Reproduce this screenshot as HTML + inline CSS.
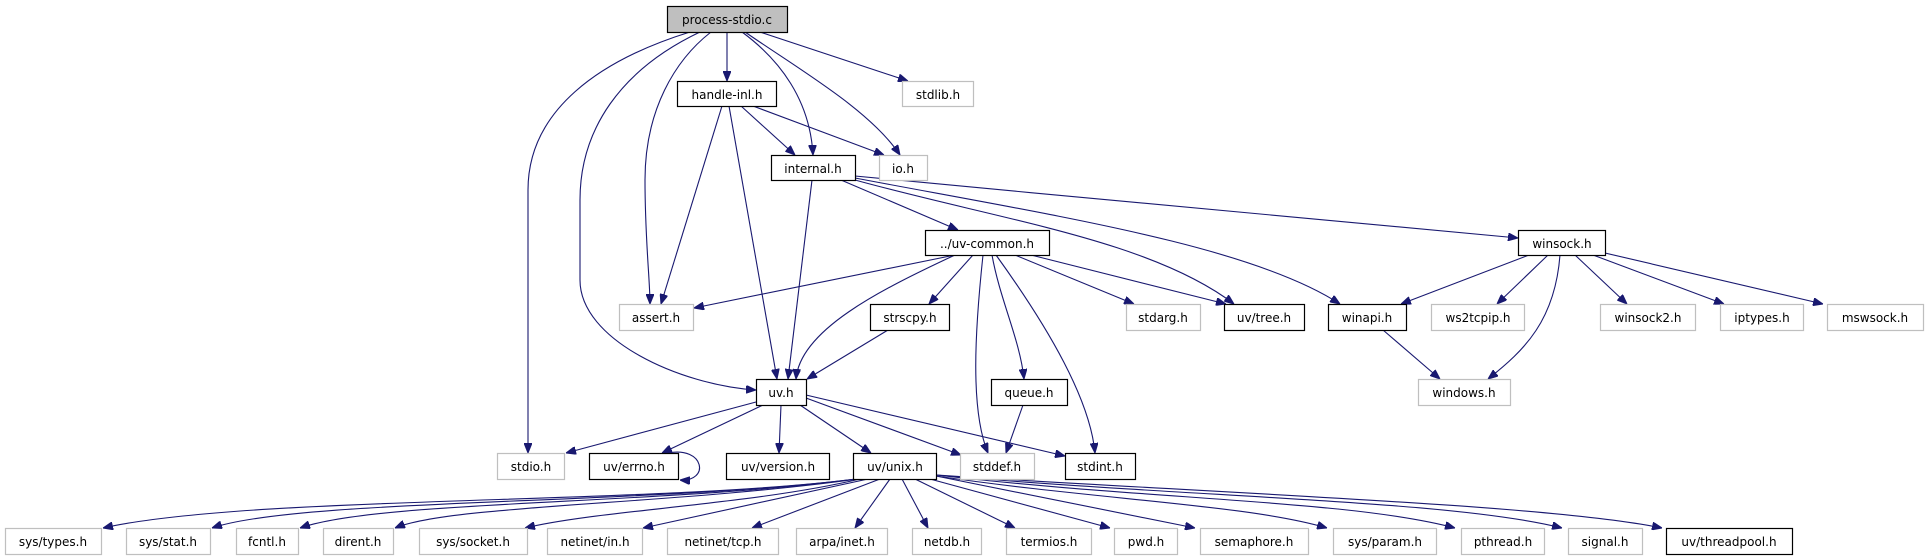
<!DOCTYPE html>
<html><head><meta charset="utf-8"><style>
html,body{margin:0;padding:0;background:#fff;}
svg{display:block;}
text{font-family:"DejaVu Sans","Liberation Sans",sans-serif;font-size:12px;fill:#000;text-anchor:middle;}
.e{fill:none;stroke:#191970;stroke-width:1.1;marker-end:url(#a);}
.g{fill:#fff;stroke:#bfbfbf;stroke-width:1.2;}
.b{fill:#fff;stroke:#000;stroke-width:1.2;}
</style></head><body>
<svg width="1925" height="560" viewBox="0 0 1925 560" xmlns="http://www.w3.org/2000/svg">
<defs><marker id="a" markerUnits="userSpaceOnUse" markerWidth="10" markerHeight="8" refX="10" refY="4" orient="auto"><path d="M0,0 L10,4 L0,8 z" fill="#191970" stroke="#191970"/></marker></defs>
<g>
<path class="e" d="M727,32 L727,81"/>
<path class="e" d="M760,32 L908,81"/>
<path class="e" d="M745,32 C800,70 870,110 900,155"/>
<path class="e" d="M742,32 C780,60 810,100 813,155"/>
<path class="e" d="M711,32 C675,60 645,110 645,180 C645,240 650,280 650,304"/>
<path class="e" d="M700,32 C620,70 580,130 580,200 L580,280 C580,340 680,385 756,390"/>
<path class="e" d="M690,32 C600,60 528,110 528,190 L528,453"/>
<path class="e" d="M741,106 L795,155"/>
<path class="e" d="M753,106 L884,155"/>
<path class="e" d="M722,106 L661,304"/>
<path class="e" d="M729,106 L777,379"/>
<path class="e" d="M812,180 L788,379"/>
<path class="e" d="M955,255 C880,290 800,330 796,379"/>
<path class="e" d="M888,330 L807,379"/>
<path class="e" d="M841,180 L958,230"/>
<path class="e" d="M855,180 C1000,220 1150,240 1234,304"/>
<path class="e" d="M855,178 C1050,215 1250,245 1340,304"/>
<path class="e" d="M855,176 C1100,200 1400,225 1518,238"/>
<path class="e" d="M955,255 L694,308"/>
<path class="e" d="M973,255 L929,304"/>
<path class="e" d="M1015,255 L1134,304"/>
<path class="e" d="M1031,255 L1226,304"/>
<path class="e" d="M992,255 C1000,300 1020,340 1024,379"/>
<path class="e" d="M983,255 C975,330 970,410 988,453"/>
<path class="e" d="M996,255 C1050,330 1090,400 1095,453"/>
<path class="e" d="M1529,255 L1401,304"/>
<path class="e" d="M1548,255 L1497,304"/>
<path class="e" d="M1560,255 C1555,320 1525,350 1488,379"/>
<path class="e" d="M1575,255 L1627,304"/>
<path class="e" d="M1593,255 L1724,304"/>
<path class="e" d="M1605,253 L1823,304"/>
<path class="e" d="M1383,330 L1440,379"/>
<path class="e" d="M756,402 L566,453"/>
<path class="e" d="M763,405 L662,453"/>
<path class="e" d="M781,405 L779,453"/>
<path class="e" d="M800,405 L871,453"/>
<path class="e" d="M806,398 L961,455"/>
<path class="e" d="M806,395 L1065,456"/>
<path class="e" d="M1023,405 L1006,453"/>
<path class="e" d="M668,453 C705,446 710,482 680,480"/>
<path class="e" d="M856,479 C650,505 250,495 103,528"/>
<path class="e" d="M856,479 C650,505 300,498 212,528"/>
<path class="e" d="M857,479 C660,505 380,500 300,528"/>
<path class="e" d="M858,479 C670,505 450,505 395,528"/>
<path class="e" d="M860,479 C750,505 600,510 525,528"/>
<path class="e" d="M868,479 L643,528"/>
<path class="e" d="M880,479 L752,528"/>
<path class="e" d="M890,479 L855,528"/>
<path class="e" d="M902,479 L928,528"/>
<path class="e" d="M915,479 L1015,528"/>
<path class="e" d="M930,479 L1110,528"/>
<path class="e" d="M936,476 L1195,528"/>
<path class="e" d="M936,476 C1100,500 1250,505 1327,528"/>
<path class="e" d="M936,475 C1150,500 1350,500 1455,528"/>
<path class="e" d="M936,475 C1200,498 1450,500 1562,528"/>
<path class="e" d="M936,475 C1250,495 1550,505 1662,528"/>
</g>
<g>
<rect x="667.5" y="6.5" width="120" height="26" fill="#bfbfbf" stroke="#000" stroke-width="1.2"/><text x="727" y="24">process-stdio.c</text>
<rect class="b" x="677.5" y="81.5" width="99" height="25"/><text x="727" y="99">handle-inl.h</text>
<rect class="g" x="902.5" y="81.5" width="71" height="25"/><text x="938" y="99">stdlib.h</text>
<rect class="b" x="771.5" y="155.5" width="84" height="25"/><text x="813" y="173">internal.h</text>
<rect class="g" x="879.5" y="155.5" width="48" height="25"/><text x="903" y="173">io.h</text>
<rect class="b" x="925.5" y="230.5" width="124" height="25"/><text x="987" y="248">../uv-common.h</text>
<rect class="b" x="1518.5" y="230.5" width="87" height="25"/><text x="1562" y="248">winsock.h</text>
<rect class="g" x="619.5" y="304.5" width="74" height="26"/><text x="656" y="322">assert.h</text>
<rect class="b" x="870.5" y="304.5" width="79" height="26"/><text x="910" y="322">strscpy.h</text>
<rect class="g" x="1126.5" y="304.5" width="74" height="26"/><text x="1163" y="322">stdarg.h</text>
<rect class="b" x="1224.5" y="304.5" width="80" height="26"/><text x="1264" y="322">uv/tree.h</text>
<rect class="b" x="1328.5" y="304.5" width="78" height="26"/><text x="1367" y="322">winapi.h</text>
<rect class="g" x="1431.5" y="304.5" width="93" height="26"/><text x="1478" y="322">ws2tcpip.h</text>
<rect class="g" x="1600.5" y="304.5" width="95" height="26"/><text x="1648" y="322">winsock2.h</text>
<rect class="g" x="1720.5" y="304.5" width="83" height="26"/><text x="1762" y="322">iptypes.h</text>
<rect class="g" x="1827.5" y="304.5" width="96" height="26"/><text x="1875" y="322">mswsock.h</text>
<rect class="b" x="756.5" y="379.5" width="50" height="26"/><text x="781" y="397">uv.h</text>
<rect class="b" x="991.5" y="379.5" width="76" height="26"/><text x="1029" y="397">queue.h</text>
<rect class="g" x="1418.5" y="379.5" width="92" height="26"/><text x="1464" y="397">windows.h</text>
<rect class="g" x="497.5" y="453.5" width="67" height="26"/><text x="531" y="471">stdio.h</text>
<rect class="b" x="589.5" y="453.5" width="89" height="26"/><text x="634" y="471">uv/errno.h</text>
<rect class="b" x="726.5" y="453.5" width="103" height="26"/><text x="778" y="471">uv/version.h</text>
<rect class="b" x="853.5" y="453.5" width="83" height="26"/><text x="895" y="471">uv/unix.h</text>
<rect class="g" x="960.5" y="453.5" width="74" height="26"/><text x="997" y="471">stddef.h</text>
<rect class="b" x="1065.5" y="453.5" width="70" height="26"/><text x="1100" y="471">stdint.h</text>
<rect class="g" x="5.5" y="528.5" width="96" height="26"/><text x="53" y="546">sys/types.h</text>
<rect class="g" x="126.5" y="528.5" width="84" height="26"/><text x="168" y="546">sys/stat.h</text>
<rect class="g" x="236.5" y="528.5" width="62" height="26"/><text x="267" y="546">fcntl.h</text>
<rect class="g" x="323.5" y="528.5" width="70" height="26"/><text x="358" y="546">dirent.h</text>
<rect class="g" x="419.5" y="528.5" width="108" height="26"/><text x="473" y="546">sys/socket.h</text>
<rect class="g" x="547.5" y="528.5" width="95" height="26"/><text x="595" y="546">netinet/in.h</text>
<rect class="g" x="667.5" y="528.5" width="111" height="26"/><text x="723" y="546">netinet/tcp.h</text>
<rect class="g" x="796.5" y="528.5" width="91" height="26"/><text x="842" y="546">arpa/inet.h</text>
<rect class="g" x="912.5" y="528.5" width="69" height="26"/><text x="947" y="546">netdb.h</text>
<rect class="g" x="1006.5" y="528.5" width="85" height="26"/><text x="1049" y="546">termios.h</text>
<rect class="g" x="1114.5" y="528.5" width="63" height="26"/><text x="1146" y="546">pwd.h</text>
<rect class="g" x="1200.5" y="528.5" width="108" height="26"/><text x="1254" y="546">semaphore.h</text>
<rect class="g" x="1333.5" y="528.5" width="103" height="26"/><text x="1385" y="546">sys/param.h</text>
<rect class="g" x="1461.5" y="528.5" width="83" height="26"/><text x="1503" y="546">pthread.h</text>
<rect class="g" x="1568.5" y="528.5" width="74" height="26"/><text x="1605" y="546">signal.h</text>
<rect class="b" x="1666.5" y="528.5" width="126" height="26"/><text x="1729" y="546">uv/threadpool.h</text>
</g>
</svg>
</body></html>
